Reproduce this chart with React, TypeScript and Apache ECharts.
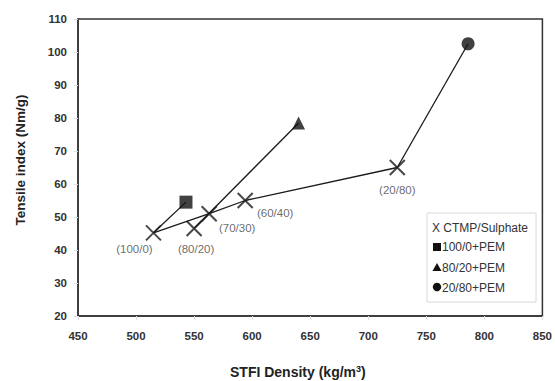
import React, { useEffect, useRef } from "react";
import * as echarts from "echarts";

// ---- data ----
const ctmpLabels = ["(100/0)", "(80/20)", "(70/30)", "(60/40)", "(20/80)"];
const ctmpDensity = [515, 550, 563, 594, 725];
const ctmpTensile = [45.2, 46.5, 51, 55, 65];
// main CTMP/Sulphate line connects these blends (indices into the arrays above)
const mainLineIdx = [0, 2, 3, 4];

const pemNames = ["100/0+PEM", "80/20+PEM", "20/80+PEM"];
const pemDensity = [543, 640, 786];
const pemTensile = [54.5, 78.5, 102.5];
const pemFromIdx = [0, 1, 4]; // which CTMP blend each PEM point is linked to

const xTicks = [450, 500, 550, 600, 650, 700, 750, 800, 850];
const yTicks = [20, 30, 40, 50, 60, 70, 80, 90, 100, 110];

// ---- styles ----
const labelOffsets: number[][] = [
  [-19, 16],
  [2, 20],
  [28, 14],
  [30, 12],
  [0, 22],
];
const pemSymbols = ["rect", "triangle", "circle"];
const pemSizes = [13, 13, 13];
const FONT = "Liberation Sans, Arial, Helvetica, sans-serif";
const XSYM = "path://M0,0L10,10M10,0L0,10";

export default function App() {
  const ref = useRef<HTMLDivElement>(null);
  useEffect(() => {
    if (!ref.current) return;
    const chart = echarts.init(ref.current, undefined, { renderer: "svg" });

    const lineStyle = { color: "#1a1a1a", width: 1.3 };
    const series: any[] = [];
    series.push({
      type: "line",
      data: mainLineIdx.map((i) => [ctmpDensity[i], ctmpTensile[i]]),
      symbol: "none",
      lineStyle,
      silent: true,
      z: 2,
    });
    pemNames.forEach((n, k) => {
      const i = pemFromIdx[k];
      series.push({
        type: "line",
        data: [
          [ctmpDensity[i], ctmpTensile[i]],
          [pemDensity[k], pemTensile[k]],
        ],
        symbol: "none",
        lineStyle,
        silent: true,
        z: 2,
      });
    });
    series.push({
      type: "scatter",
      name: "CTMP/Sulphate",
      symbol: XSYM,
      symbolSize: 15,
      itemStyle: { color: "none", borderColor: "#1a1a1a", borderWidth: 2 },
      data: ctmpDensity.map((x, i) => ({
        value: [x, ctmpTensile[i]],
        label: {
          show: true,
          formatter: ctmpLabels[i],
          position: "inside",
          offset: labelOffsets[i],
          color: "#444",
          fontSize: 11.5,
          fontFamily: FONT,
        },
      })),
      z: 3,
    });
    pemNames.forEach((n, k) => {
      series.push({
        type: "scatter",
        name: n,
        symbol: pemSymbols[k],
        symbolSize: pemSizes[k],
        itemStyle: { color: "#111" },
        data: [[pemDensity[k], pemTensile[k]]],
        z: 3,
      });
    });

    const axisLabel = { color: "#333", fontSize: 11.5, fontWeight: "bold", fontFamily: FONT };
    const legX = 427;
    const legY = 213;
    const legFont = `12px ${FONT}`;
    chart.setOption({
      animation: false,
      grid: {
        left: 78,
        right: 5,
        top: 19,
        bottom: 65,
        show: true,
        borderColor: "#333",
        borderWidth: 1.5,
        backgroundColor: "#fff",
      },
      xAxis: {
        type: "value",
        min: xTicks[0],
        max: xTicks[xTicks.length - 1],
        interval: 50,
        axisLine: { show: true, lineStyle: { color: "#333", width: 1.5 } },
        axisTick: { show: true, length: 4, lineStyle: { color: "#ddd" } },
        splitLine: { show: false },
        axisLabel: { ...axisLabel, margin: 14 },
      },
      yAxis: {
        type: "value",
        min: yTicks[0],
        max: yTicks[yTicks.length - 1],
        interval: 10,
        axisLine: { show: true, lineStyle: { color: "#333", width: 1.5 } },
        axisTick: { show: true, length: 4, lineStyle: { color: "#ddd" } },
        splitLine: { show: false },
        axisLabel: { ...axisLabel, margin: 11 },
      },
      series,
      graphic: [
        {
          type: "text",
          left: 230,
          top: 364,
          style: {
            text: "STFI Density (kg/m{sup|3})",
            font: `bold 14px ${FONT}`,
            fill: "#222",
            rich: {
              sup: { fontSize: 9, fontWeight: "bold", verticalAlign: "top", padding: [0, 0, 7, 0] },
            },
          },
        },
        {
          type: "text",
          x: 20,
          y: 160,
          rotation: Math.PI / 2,
          style: {
            text: "Tensile index (Nm/g)",
            font: `bold 13.5px ${FONT}`,
            fill: "#222",
            align: "center",
            verticalAlign: "middle",
          },
        },
        {
          type: "rect",
          shape: { x: legX, y: legY, width: 109, height: 89 },
          style: { fill: "#fff", stroke: "#d8d8d8", lineWidth: 1 },
          z: 10,
        },
        {
          type: "text",
          x: legX + 5,
          y: legY + 15,
          z: 11,
          style: { text: "X CTMP/Sulphate", font: legFont, fill: "#333", verticalAlign: "middle" },
        },
        {
          type: "rect",
          z: 11,
          shape: { x: legX + 6, y: legY + 30, width: 8, height: 8 },
          style: { fill: "#111" },
        },
        {
          type: "text",
          x: legX + 15,
          y: legY + 34,
          z: 11,
          style: { text: pemNames[0], font: legFont, fill: "#333", verticalAlign: "middle" },
        },
        {
          type: "polygon",
          z: 11,
          shape: { points: [[legX + 10, legY + 50], [legX + 14.5, legY + 58], [legX + 5.5, legY + 58]] },
          style: { fill: "#111" },
        },
        {
          type: "text",
          x: legX + 15,
          y: legY + 55,
          z: 11,
          style: { text: pemNames[1], font: legFont, fill: "#333", verticalAlign: "middle" },
        },
        {
          type: "circle",
          z: 11,
          shape: { cx: legX + 10, cy: legY + 74, r: 4.2 },
          style: { fill: "#111" },
        },
        {
          type: "text",
          x: legX + 15,
          y: legY + 75,
          z: 11,
          style: { text: pemNames[2], font: legFont, fill: "#333", verticalAlign: "middle" },
        },
      ],
    });
    return () => chart.dispose();
  }, []);
  return <div ref={ref} style={{ width: 555, height: 381, position: "absolute", left: 0, top: 0 }} />;
}
